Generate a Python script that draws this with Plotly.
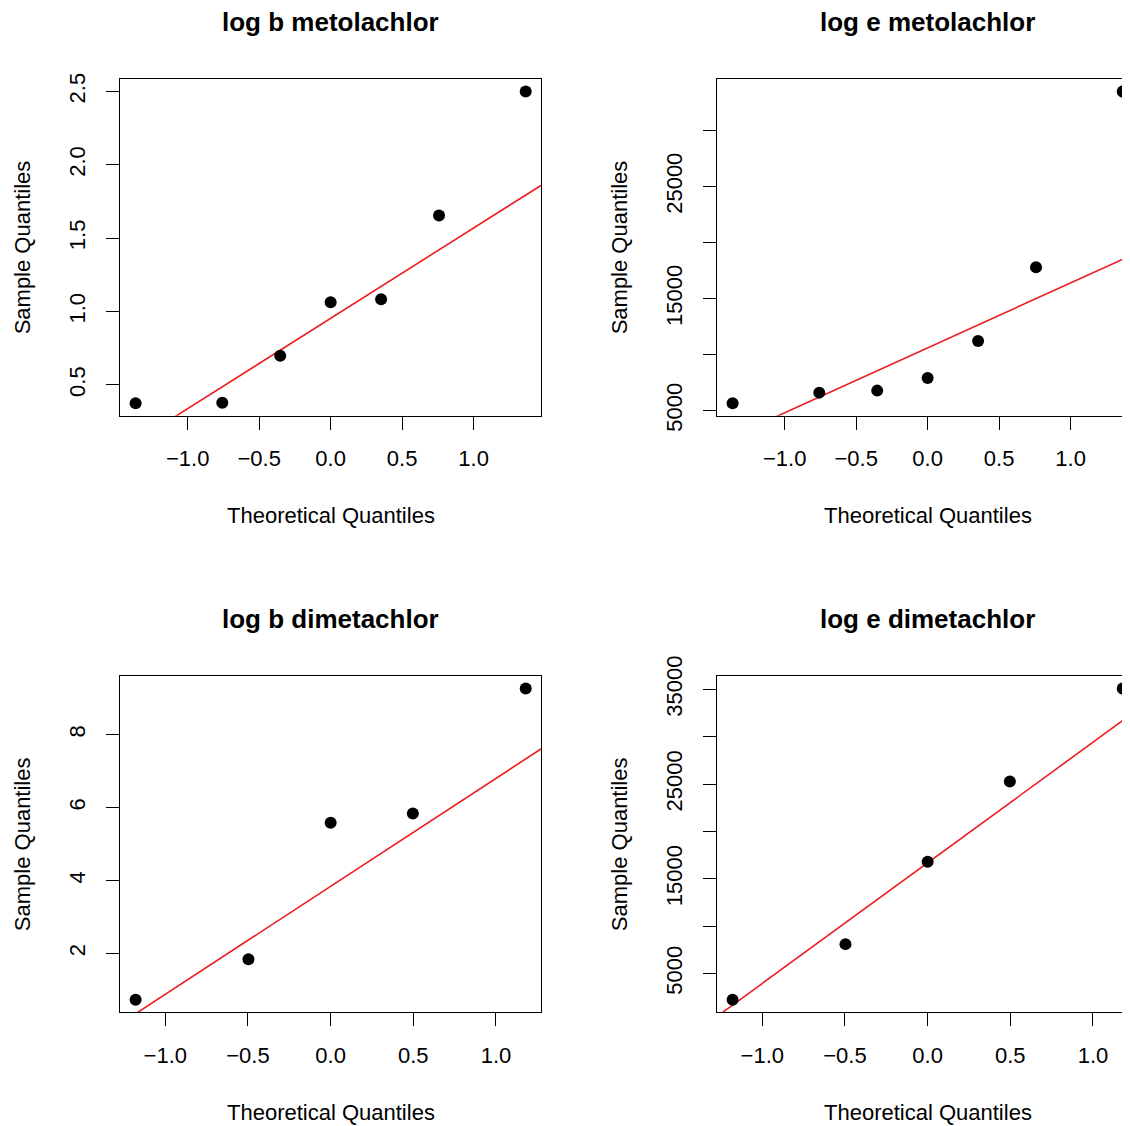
import numpy as np
import plotly.graph_objects as go

# theoretical normal quantiles (qqnorm, ppoints) for n=7 and n=5
tq7 = [-1.3646, -0.7582, -0.3529, 0.0, 0.3529, 0.7582, 1.3646]
tq5 = [-1.1798, -0.4972, 0.0, 0.4972, 1.1798]

# sample values
b_metolachlor = [0.375, 0.379, 0.698, 1.064, 1.084, 1.654, 2.500]
e_metolachlor = [5661, 6607, 6786, 7920, 11223, 17804, 33482]
b_dimetachlor = [0.730, 1.846, 5.586, 5.841, 9.270]
e_dimetachlor = [2222, 8106, 16799, 25281, 35105]

titles = ["log b metolachlor", "log e metolachlor", "log b dimetachlor", "log e dimetachlor"]

x_ticks = [-1.0, -0.5, 0.0, 0.5, 1.0]
y_ticks = [
    [0.5, 1.0, 1.5, 2.0, 2.5],
    [5000, 10000, 15000, 20000, 25000, 30000],
    [2, 4, 6, 8],
    [5000, 10000, 15000, 20000, 25000, 30000, 35000],
]
y_ticktext = [
    ["0.5", "1.0", "1.5", "2.0", "2.5"],
    ["5000", "", "15000", "", "25000", ""],
    ["2", "4", "6", "8"],
    ["5000", "", "15000", "", "25000", "", "35000"],
]

# the page body adds an 8px margin, so the figure is made smaller by that much
OFF = 8
W, H = 1130 - OFF, 1126 - OFF
FONT = "Liberation Sans, Arial, Helvetica, sans-serif"

# plot boxes in page pixels: (left, top, right, bottom)
boxes = [
    (120, 79, 541.3, 415.7),
    (717, 79, 1138.3, 415.7),
    (120, 676, 541.3, 1012.3),
    (717, 676, 1138.3, 1012.3),
]

panels = [
    (tq7, b_metolachlor),
    (tq7, e_metolachlor),
    (tq5, b_dimetachlor),
    (tq5, e_dimetachlor),
]

Q1N, Q3N = -0.6744898, 0.6744898


def px(v):
    return (v - OFF) / W


def py(v):
    return 1 - (v - OFF) / H


def rrange(v):
    lo, hi = min(v), max(v)
    pad = 0.04 * (hi - lo)
    return lo - pad, hi + pad


fig = go.Figure()
layout = dict(
    width=W, height=H,
    margin=dict(l=0, r=0, t=0, b=0, pad=0, autoexpand=False),
    paper_bgcolor="white", plot_bgcolor="white",
    showlegend=False,
    font=dict(family=FONT, size=22, color="black"),
    annotations=[],
)

for i, ((xv, yv), (l, t, r, b)) in enumerate(zip(panels, boxes)):
    n = i + 1
    xa = "x" if n == 1 else f"x{n}"
    ya = "y" if n == 1 else f"y{n}"

    x0, x1 = rrange(xv)
    y0, y1 = rrange(yv)

    # right column is cut at the page edge
    visible = min(r, W + OFF)
    frac = (visible - l) / (r - l)
    x1_vis = x0 + (x1 - x0) * frac

    # qqline through the quartiles
    q1, q3 = np.quantile(yv, [0.25, 0.75])
    slope = (q3 - q1) / (Q3N - Q1N)
    icpt = q1 - slope * Q1N
    lx = [x0, x1]
    ly = [icpt + slope * x0, icpt + slope * x1]

    fig.add_trace(go.Scatter(x=lx, y=ly, mode="lines",
                             line=dict(color="#ee1c1c", width=1.6),
                             xaxis=xa, yaxis=ya, hoverinfo="skip"))
    fig.add_trace(go.Scatter(x=xv, y=yv, mode="markers",
                             marker=dict(color="black", size=12),
                             cliponaxis=False, xaxis=xa, yaxis=ya))

    right_col = r > W + OFF
    xkey = "xaxis" if n == 1 else f"xaxis{n}"
    ykey = "yaxis" if n == 1 else f"yaxis{n}"
    layout[xkey] = dict(
        domain=[px(l), px(visible)], anchor=ya, range=[x0, x1_vis],
        automargin=False,
        showgrid=False, zeroline=False,
        showline=True, linecolor="black", linewidth=1.3, mirror=True,
        ticks="outside", ticklen=13, tickwidth=1.3, tickcolor="black",
        tickvals=x_ticks, ticktext=["\u22121.0", "\u22120.5", "0.0", "0.5", "1.0"],
        ticklabelstandoff=10,
        tickfont=dict(family=FONT, size=22, color="black"),
    )
    layout[ykey] = dict(
        domain=[py(b), py(t)], anchor=xa, range=[y0, y1],
        automargin=False,
        showgrid=False, zeroline=False,
        showline=True, linecolor="black", linewidth=1.3,
        mirror=False if right_col else True,
        ticks="outside", ticklen=13, tickwidth=1.3, tickcolor="black",
        tickvals=y_ticks[i], ticktext=y_ticktext[i], tickangle=-90,
        ticklabelstandoff=12,
        tickfont=dict(family=FONT, size=22, color="black"),
    )

    cx = (l + r) / 2
    layout["annotations"] += [
        dict(text=f"<b>{titles[i]}</b>", x=px(cx), y=py(t - 57),
             xref="paper", yref="paper", showarrow=False,
             xanchor="center", yanchor="middle",
             font=dict(family=FONT, size=26, color="black")),
        dict(text="Theoretical Quantiles", x=px(cx), y=py(b + 100),
             xref="paper", yref="paper", showarrow=False,
             xanchor="center", yanchor="middle",
             font=dict(family=FONT, size=22, color="black")),
        dict(text="Sample Quantiles", x=px(l - 98), y=py((t + b) / 2),
             xref="paper", yref="paper", showarrow=False, textangle=-90,
             xanchor="center", yanchor="middle",
             font=dict(family=FONT, size=22, color="black")),
    ]

fig.update_layout(**layout)
fig.write_html("out.html")
